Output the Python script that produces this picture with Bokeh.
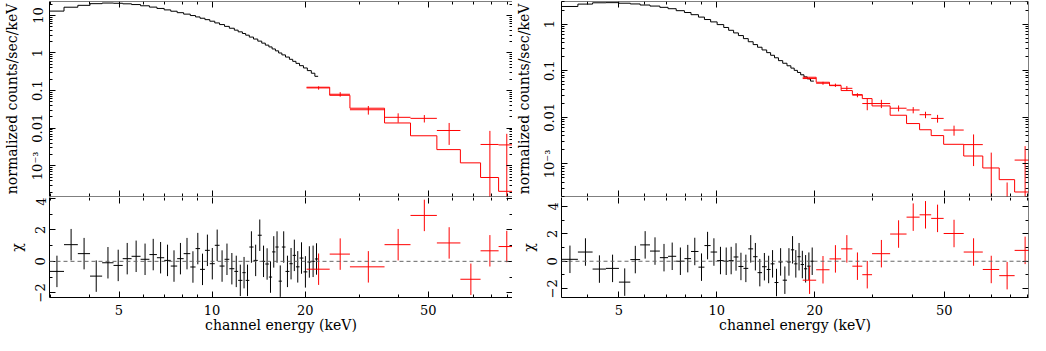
from bokeh.plotting import figure
from bokeh.layouts import row, column
from bokeh.models import FixedTicker, LogAxis, LinearAxis, Span, Range1d
from bokeh.embed import file_html
from bokeh.resources import INLINE

FONT = "DejaVu Serif"
BLACK = "#000000"
RED = "#ff0000"

# ---------------- left panel data ----------------
L_black_edges = [2.98, 3.32, 3.68, 4.03, 4.41, 4.80, 5.14, 5.49, 5.87, 6.27, 6.63, 7.00,
                 7.35, 7.71, 8.09, 8.50, 8.84, 9.14, 9.48, 9.83, 10.20, 10.57, 10.97, 11.37,
                 11.80, 12.14, 12.53, 12.84, 13.19, 13.61, 14.05, 14.47, 14.86, 15.26, 15.63,
                 16.02, 16.41, 16.81, 17.27, 17.78, 18.22, 18.67, 19.17, 19.74, 20.32, 20.93,
                 21.49, 22.02]
L_black_rate = [13.0, 16.5, 18.5, 20.5, 21.3, 21.0, 20.3, 19.4, 18.0, 16.6,
                15.3, 14.0, 12.9, 11.8, 10.8, 9.9, 9.1, 8.4, 7.7, 7.0,
                6.3, 5.7, 5.1, 4.55, 4.05, 3.65, 3.3, 2.98, 2.65, 2.35,
                2.07, 1.83, 1.62, 1.45, 1.28, 1.14, 1.0, 0.89, 0.78, 0.68,
                0.60, 0.53, 0.46, 0.40, 0.34, 0.29, 0.24]
L_black_chi = [-0.64, 1.06, 0.49, -0.94, -0.09, -0.26, 0.17, 0.32, 0.13, 0.43,
               0.23, 0.06, -0.3, 0.17, 0.49, -0.36, 0.81, -0.51, 0.7, -0.15,
               1.02, -0.3, 0.13, -0.47, -0.64, -1.21, -0.72, -1.21, 0.91, 0.06,
               1.66, 0.0, -0.17, -1.0, 0.6, 0.91, -1.26, 0.91, -0.64, -0.15,
               0.38, -0.35, 0.21, -0.67, -0.04, 0.0, 0.15]

L_red_edges = [20.2, 24.0, 27.9, 36.1, 43.8, 53.3, 63.5, 73.8, 84.4, 95.0]
L_red_model = [0.123, 0.075, 0.034, 0.0138, 0.0063, 0.0027, 0.0012, 0.00049, 0.00021]
L_red_rate = [0.118, 0.080, 0.031, 0.0195, 0.0183, 0.0087, -0.0074, 0.0037, 0.0036]
L_red_err = [0.012, 0.011, 0.008, 0.0054, 0.0041, 0.0051, 0.0075, 0.0048, 0.0035]
L_red_chi = [-0.5, 0.46, -0.35, 1.06, 2.92, 1.17, -1.14, 0.67, 0.94]

# ---------------- right panel data ----------------
R_black_edges = [3.33, 3.74, 4.15, 4.56, 5.00, 5.42, 5.81, 6.23, 6.68, 7.08, 7.50, 7.95,
                 8.33, 8.78, 9.16, 9.57, 10.02, 10.50, 10.87, 11.26, 11.65, 12.07, 12.49,
                 12.93, 13.34, 13.77, 14.23, 14.63, 15.04, 15.47, 15.94, 16.43, 16.89,
                 17.29, 17.69, 18.10, 18.53, 18.96, 19.41, 19.87]
R_black_rate = [2.4, 2.7, 2.88, 2.9, 2.82, 2.72, 2.58, 2.45, 2.3, 2.15,
                1.95, 1.78, 1.6, 1.42, 1.26, 1.12, 0.98, 0.85, 0.74, 0.65,
                0.57, 0.49, 0.42, 0.365, 0.32, 0.28, 0.245, 0.215, 0.19, 0.165,
                0.145, 0.128, 0.114, 0.102, 0.092, 0.082, 0.074, 0.067, 0.06]
R_black_chi = [0.14, 0.67, -0.57, -0.52, -1.52, 0.12, 1.19, 0.74, 0.26, 0.36,
               0.0, 0.19, 0.71, -0.43, 1.14, 0.67, 0.05, 0.0, 0.05, 0.31,
               -0.38, -0.52, 0.9, 0.33, -0.83, -0.4, -0.6, -0.19, -1.55, -0.05,
               -1.38, -0.05, 0.83, -0.19, 0.33, -0.24, -0.55, -0.36, 0.0]

R_red_edges = [18.36, 20.2, 22.2, 24.1, 26.1, 28.0, 30.0, 34.1, 38.3, 42.0, 45.6, 49.8,
               57.4, 65.7, 73.8, 82.3, 95.0]
R_red_model = [0.0726, 0.0567, 0.048, 0.0376, 0.0308, 0.0253, 0.0176, 0.0111, 0.00736,
               0.00542, 0.00406, 0.00264, 0.00148, 0.00082, 0.00046, 0.00025]
R_red_rate = [0.068, 0.054, 0.049, 0.042, 0.030, 0.0198, 0.0198, 0.0157, 0.0144,
              0.0114, 0.0095, 0.00534, 0.0026, -0.0005, -0.0013, 0.00121]
R_red_err = [0.003, 0.004, 0.004, 0.005, 0.003, 0.0056, 0.004, 0.0023, 0.0022,
             0.0018, 0.0018, 0.0013, 0.0017, 0.00225, 0.0017, 0.0012]
R_red_chi = [-1.38, -0.62, 0.17, 0.9, -0.36, -0.98, 0.55, 1.98, 3.21, 3.38, 3.12, 2.02,
             0.67, -0.6, -1.05, 0.79]

# axis ranges and ticks
L_xrange = (2.98, 93.6)
R_xrange = (3.33, 90.8)
L_yrange_top = (1.53e-4, 23.4)
R_yrange_top = (2.0e-4, 3.07)
L_yrange_res = (-2.3, 4.06)
R_yrange_res = (-2.64, 4.64)

X_MAJOR = [5, 10, 20, 50]
X_MINOR = [3, 4, 6, 7, 8, 9, 30, 40, 60, 70, 80, 90]
Y_MAJOR = [0.001, 0.01, 0.1, 1, 10]
Y_LABELS = {0.001: "10\u207b\u00b3", 0.01: "0.01", 0.1: "0.1", 1: "1", 10: "10"}
Y_MINOR = [k * 10.0 ** d for d in range(-4, 2) for k in range(2, 10)]
R_MAJOR = [-2, 0, 2, 4]
R_LABELS = {-2: "\u22122", 0: "0", 2: "2", 4: "4"}
R_MINOR = [-1, 1, 3]

UH = 197   # upper figure height (1 top + 195 frame + 1 bottom)
LH = 138   # lower figure height (frame + bottom labels)


def style(ax, ticks, minor, labels=None, line=True, fixed=None):
    ax.ticker = FixedTicker(ticks=ticks, minor_ticks=minor)
    ax.major_tick_in = 6
    ax.major_tick_out = 0
    ax.minor_tick_in = 3
    ax.minor_tick_out = 0
    ax.major_tick_line_color = BLACK
    ax.minor_tick_line_color = BLACK
    ax.axis_line_color = BLACK if line else None
    ax.major_label_text_font = FONT
    ax.major_label_text_color = BLACK
    ax.major_label_text_font_size = "13px"
    ax.major_label_text_line_height = 1.0
    ax.major_label_standoff = 4
    ax.axis_label_text_font = FONT
    ax.axis_label_text_font_size = "14px"
    ax.axis_label_text_font_style = "normal"
    ax.axis_label_text_color = BLACK
    ax.axis_label_text_line_height = 1.0
    if labels is not None:
        ax.major_label_overrides = labels
    else:
        ax.major_label_overrides = {t: "" for t in ticks}
    if fixed is not None:
        ax.fixed_location = fixed


def base(width, height, xr, yr, ytype, bl, br, bt, bb, xlabel=None, ylabel=None):
    kw = {}
    if xlabel:
        kw["x_axis_label"] = xlabel
    if ylabel:
        kw["y_axis_label"] = ylabel
    p = figure(width=width, height=height, x_axis_type="log", y_axis_type=ytype,
               x_range=xr, y_range=yr, output_backend="svg", toolbar_location=None,
               min_border_left=bl, min_border_right=br, min_border_top=bt,
               min_border_bottom=bb, **kw)
    p.grid.visible = False
    p.outline_line_color = None
    p.background_fill_color = "white"
    p.border_fill_color = "white"
    return p


def make_upper(xr, yr, width, bl, br):
    p = base(width, UH, xr, yr, "log", bl, br, 1, 1, ylabel="normalized counts/sec/keV")
    p.add_layout(LogAxis(), "above")
    p.add_layout(LogAxis(), "right")
    style(p.below[0], X_MAJOR, X_MINOR, fixed=yr.start)
    style(p.above[0], X_MAJOR, X_MINOR, fixed=yr.end)
    style(p.right[0], Y_MAJOR, Y_MINOR, fixed=xr.end)
    style(p.left[0], Y_MAJOR, Y_MINOR, labels=Y_LABELS)
    p.left[0].major_label_orientation = "parallel"
    p.left[0].axis_label_standoff = 8
    return p


def make_lower(xr, yr, width, bl, br):
    p = base(width, LH, xr, yr, "linear", bl, br, 0, 20,
             xlabel="channel energy (keV)", ylabel="\u03c7")
    p.add_layout(LogAxis(), "above")
    p.add_layout(LinearAxis(), "right")
    style(p.below[0], X_MAJOR, X_MINOR, labels={5: "5", 10: "10", 20: "20", 50: "50"})
    p.below[0].major_label_standoff = 7
    p.below[0].axis_label_standoff = -1
    style(p.above[0], X_MAJOR, X_MINOR, line=False, fixed=yr.end)
    style(p.right[0], R_MAJOR, R_MINOR, fixed=xr.end)
    style(p.left[0], R_MAJOR, R_MINOR, labels=R_LABELS)
    p.left[0].major_label_orientation = "parallel"
    p.left[0].axis_label_standoff = 8
    p.add_layout(Span(location=0, dimension="width", line_color="#666666",
                      line_dash="4 3", line_width=1))
    return p


def centers(edges):
    return [(a + b) / 2.0 for a, b in zip(edges[:-1], edges[1:])]


def step(p, edges, vals, color):
    p.step(x=list(edges), y=list(vals) + [vals[-1]], mode="after",
           line_color=color, line_width=1)


def data_crosses(p, edges, vals, errs, color):
    lo, hi, c = edges[:-1], edges[1:], centers(edges)
    keep = [i for i, v in enumerate(vals) if v > 0]
    p.segment(x0=[lo[i] for i in keep], x1=[hi[i] for i in keep],
              y0=[vals[i] for i in keep], y1=[vals[i] for i in keep],
              line_color=color, line_width=1)
    p.segment(x0=c, x1=c, y0=[max(v - e, 1e-9) for v, e in zip(vals, errs)],
              y1=[v + e for v, e in zip(vals, errs)], line_color=color, line_width=1)


def chi_crosses(p, edges, chis, color):
    lo, hi, c = edges[:-1], edges[1:], centers(edges)
    p.segment(x0=lo, x1=hi, y0=chis, y1=chis, line_color=color, line_width=1)
    p.segment(x0=c, x1=c, y0=[v - 1 for v in chis], y1=[v + 1 for v in chis],
              line_color=color, line_width=1)


# ---------------- left panel ----------------
Lx = Range1d(*L_xrange)
p1u = make_upper(Lx, Range1d(*L_yrange_top), 512, 46, 0)
step(p1u, L_black_edges, L_black_rate, BLACK)
step(p1u, L_red_edges, L_red_model, RED)
data_crosses(p1u, L_red_edges, L_red_rate, L_red_err, RED)

p1l = make_lower(Lx, Range1d(*L_yrange_res), 512, 46, 0)
chi_crosses(p1l, L_black_edges, L_black_chi, BLACK)
chi_crosses(p1l, L_red_edges, L_red_chi, RED)

# ---------------- right panel ----------------
Rx = Range1d(*R_xrange)
p2u = make_upper(Rx, Range1d(*R_yrange_top), 518, 48, 2)
step(p2u, R_black_edges, R_black_rate, BLACK)
step(p2u, R_red_edges, R_red_model, RED)
data_crosses(p2u, R_red_edges, R_red_rate, R_red_err, RED)

p2l = make_lower(Rx, Range1d(*R_yrange_res), 518, 48, 2)
chi_crosses(p2l, R_black_edges, R_black_chi, BLACK)
chi_crosses(p2l, R_red_edges, R_red_chi, RED)

layout = row(column(p1u, p1l, spacing=0), column(p2u, p2l, spacing=0), spacing=0)

open("out.html", "w").write(file_html(layout, INLINE))
